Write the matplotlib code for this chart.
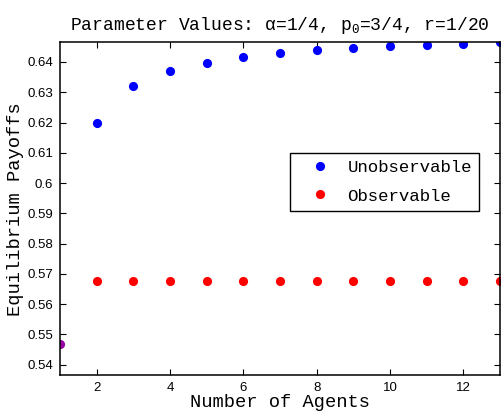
import matplotlib
matplotlib.use("Agg")
import matplotlib.pyplot as plt

# number of agents and equilibrium payoffs
agents = [2, 3, 4, 5, 6, 7, 8, 9, 10, 11, 12, 13]
unobservable = [0.6200, 0.6319, 0.6369, 0.6398, 0.6416, 0.6429,
                0.6439, 0.6446, 0.6452, 0.6456, 0.6460, 0.6465]
observable = [0.5676] * 12
single_agent = [1]
single_payoff = [0.5469]

mono = "Liberation Mono"
sans = "Liberation Sans"

fig = plt.figure(figsize=(5.02, 4.16), dpi=100)
ax = fig.add_axes([60 / 502, 41 / 416, 440 / 502, 332.7 / 416])

ms = 6.6
ax.plot(agents, unobservable, "o", color="#0000ff", ms=ms, mec="none", label="Unobservable")
ax.plot(agents, observable, "o", color="#ff0000", ms=ms, mec="none", label="Observable")
ax.plot(single_agent, single_payoff, "o", color="#9900a6", ms=ms, mec="none")

ax.set_xlim(1, 13)
ax.set_ylim(0.5366, 0.6465)
ax.set_xticks(range(2, 13, 2))
ax.set_yticks([0.54, 0.55, 0.56, 0.57, 0.58, 0.59, 0.6, 0.61, 0.62, 0.63, 0.64])
ax.set_yticklabels(["0.54", "0.55", "0.56", "0.57", "0.58", "0.59", "0.6",
                    "0.61", "0.62", "0.63", "0.64"])
ax.tick_params(direction="in", top=True, right=True, length=4, width=0.8,
               labelsize=9.5, pad=5)
for lab in ax.get_xticklabels() + ax.get_yticklabels():
    lab.set_fontfamily(sans)
for s in ax.spines.values():
    s.set_linewidth(1.1)

ax.set_title(r"Parameter Values: $\mathregular{\alpha}$=1/4, p$_\mathregular{0}$=3/4, r=1/20",
             fontfamily=mono, fontsize=13, pad=9)
ax.set_xlabel("Number of Agents", fontfamily=mono, fontsize=13.5, labelpad=0)
ax.set_ylabel("Equilibrium Payoffs", fontfamily=mono, fontsize=13.5, labelpad=2)

leg = ax.legend(loc="upper right", bbox_to_anchor=(0.9516, 0.6664), borderaxespad=0,
                numpoints=1, fancybox=False, edgecolor="black", framealpha=1,
                prop={"family": mono, "size": 12.5}, handlelength=2.7,
                handletextpad=0.2, labelspacing=0.75, borderpad=0.4)
leg.get_frame().set_linewidth(1.0)

fig.savefig("out.png", dpi=100)
